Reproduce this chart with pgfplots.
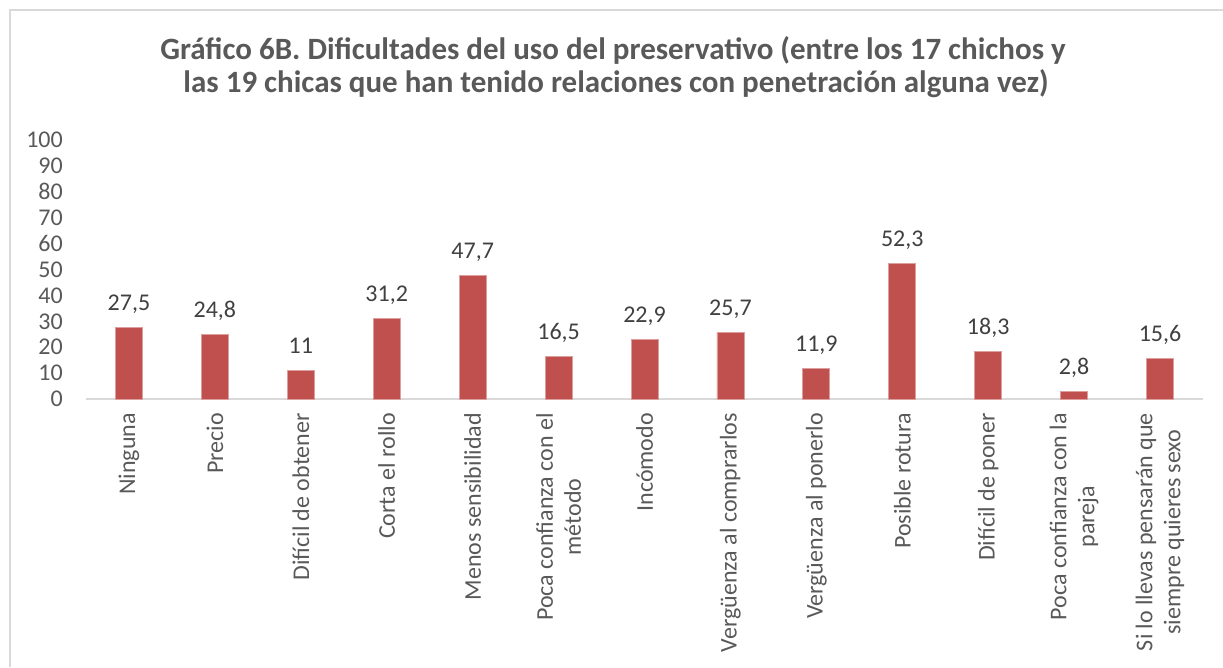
\documentclass[border=0pt]{standalone}
\usepackage{fontspec}
\setmainfont{Carlito}
\usepackage{pgfplots}
\usepackage{pgfplotstable}
\pgfplotsset{compat=1.18}
\definecolor{barred}{HTML}{C0504D}
\definecolor{tgray}{HTML}{595959}
\definecolor{vgray}{HTML}{404040}
\definecolor{fgray}{HTML}{D9D9D9}
\pgfplotstableread{
x y lab
0 27.5 27,5
1 24.8 24,8
2 11.0 11
3 31.2 31,2
4 47.7 47,7
5 16.5 16,5
6 22.9 22,9
7 25.7 25,7
8 11.9 11,9
9 52.3 52,3
10 18.3 18,3
11 2.8 2,8
12 15.6 15,6
}\datatable
\begin{document}
\begin{tikzpicture}[x=1pt,y=1pt]
\useasboundingbox (0,0) rectangle (1223,667);
\draw[fgray, line width=1.2pt] (10,0) -- (10,657) -- (1223,657);
\node[anchor=base, text=tgray, font=\fontsize{31}{34}\selectfont\bfseries, inner sep=0pt] at (613,607) {Gráfico 6B. Dificultades del uso del preservativo (entre los 17 chichos y};
\node[anchor=base, text=tgray, font=\fontsize{31}{34}\selectfont\bfseries, inner sep=0pt] at (616,574) {las 19 chicas que han tenido relaciones con penetración alguna vez)};
\begin{axis}[
  at={(86pt,268pt)}, anchor=south west,
  scale only axis, width=1117pt, height=259pt,
  xmin=-0.5, xmax=12.5, ymin=0, ymax=100,
  xtick={0,...,12}, ytick={0,10,...,100},
  yticklabels={0,10,20,30,40,50,60,70,80,90,100},
  xticklabels={Ninguna, Precio, {Difícil de obtener}, {Corta el rollo}, {Menos sensibilidad}, {Poca confianza con el\\método}, Incómodo, {Vergüenza al comprarlos}, {Vergüenza al ponerlo}, {Posible rotura}, {Difícil de poner}, {Poca confianza con la\\pareja}, {Si lo llevas pensarán que\\siempre quieres sexo}},
  axis x line*=bottom, axis y line*=left,
  x axis line style={fgray, line width=1.2pt, -},
  y axis line style={draw=none},
  major tick length=0pt,
  every y tick label/.append style={font=\fontsize{24}{29}\selectfont, text=tgray, inner sep=0pt, anchor=east},
  yticklabel shift=23pt,
  every x tick label/.append style={font=\fontsize{24}{28}\selectfont, text=tgray, inner sep=0pt, rotate=90, anchor=east, align=center},
  xticklabel shift=14pt,
  ybar, bar width=27pt, bar shift=0pt,
  nodes near coords,
  point meta=explicit symbolic,
  nodes near coords style={font=\fontsize{24}{29}\selectfont, text=vgray, inner sep=0pt, anchor=base, yshift=17pt},
  clip=false,
]
\addplot[fill=barred, draw=barred!55!white, line width=0.8pt] table[x=x, y=y, meta=lab] {\datatable};
\end{axis}
\end{tikzpicture}
\end{document}
